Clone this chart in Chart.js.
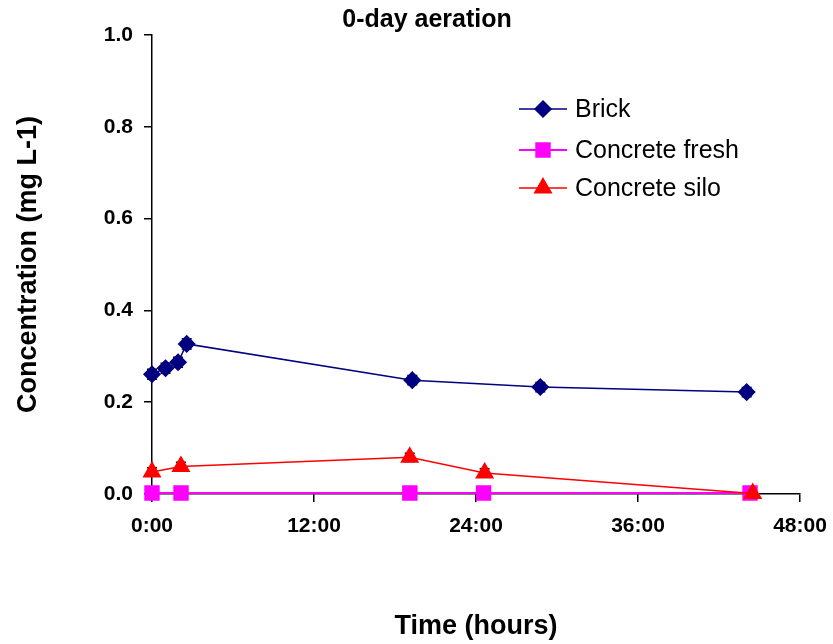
<!DOCTYPE html>
<html>
<head>
<meta charset="utf-8">
<script src="https://cdn.jsdelivr.net/npm/chart.js@4.4.0/dist/chart.umd.min.js"></script>
<style>
  html, body { margin: 0; padding: 0; background: #fff; }
  #wrap { width: 833px; height: 644px; }
</style>
</head>
<body>
<div id="wrap"><canvas id="chart"></canvas></div>
<script>
// time in hours, concentration in mg L-1
const brickTime = [0, 1.0, 1.93, 2.57, 19.28, 28.76, 44.05];
const brickConc = [0.261, 0.274, 0.287, 0.327, 0.248, 0.233, 0.222];
const brickErr  = [0.011, 0.011, 0.011, 0.011, 0.010, 0.010, 0.010];

const freshTime = [0, 2.15, 19.1, 24.56, 44.3];
const freshConc = [0.002, 0.002, 0.002, 0.002, 0.002];

const siloTime = [0, 2.14, 19.09, 24.64, 44.5];
const siloConc = [0.048, 0.060, 0.080, 0.046, 0.001];
const siloErr  = [0.009, 0.009, 0.009, 0.009, 0.004];

const xTicks = [0, 12, 24, 36, 48];
const yTicks = [0, 0.2, 0.4, 0.6, 0.8, 1.0];

const chartTitle = '0-day aeration';

const toPoints = (xs, ys) => xs.map((x, i) => ({ x: x, y: ys[i] }));
const font = '"Liberation Sans", Arial, sans-serif';

// small black error caps drawn under the markers
const errorBars = {
    id: 'errorBars',
    beforeDatasetsDraw(chart) {
        const ctx = chart.ctx;
        const xs = chart.scales.x, ys = chart.scales.y;
        ctx.save();
        ctx.strokeStyle = '#000';
        ctx.lineWidth = 1.5;
        chart.data.datasets.forEach(ds => {
            if (!ds.errors) return;
            ds.data.forEach((p, i) => {
                const px = xs.getPixelForValue(p.x);
                const top = ys.getPixelForValue(p.y + ds.errors[i]);
                const bot = ys.getPixelForValue(Math.max(0, p.y - ds.errors[i]));
                ctx.beginPath();
                ctx.moveTo(px, top); ctx.lineTo(px, bot);
                ctx.moveTo(px - 5, top); ctx.lineTo(px + 5, top);
                ctx.moveTo(px - 5, bot); ctx.lineTo(px + 5, bot);
                ctx.stroke();
            });
        });
        ctx.restore();
    }
};

// title sits a little right of the canvas centre in the original
const topTitle = {
    id: 'topTitle',
    afterDraw(chart) {
        const ctx = chart.ctx;
        ctx.save();
        ctx.fillStyle = '#000';
        ctx.font = 'bold 25px ' + font;
        ctx.textAlign = 'center';
        ctx.textBaseline = 'middle';
        ctx.fillText(chartTitle, 427, 20);
        ctx.restore();
    }
};

// legend inside the plot, like the original
const innerLegend = {
    id: 'innerLegend',
    afterDraw(chart) {
        const ctx = chart.ctx;
        const x0 = 519, rowY = [109, 150, 188];
        ctx.save();
        chart.data.datasets.forEach((ds, i) => {
            const y = rowY[i];
            ctx.strokeStyle = ds.borderColor;
            ctx.lineWidth = ds.borderWidth;
            ctx.beginPath();
            ctx.moveTo(x0, y); ctx.lineTo(x0 + 48, y);
            ctx.stroke();
            ctx.fillStyle = ds.pointBackgroundColor;
            ctx.strokeStyle = ds.pointBorderColor;
            Chart.helpers.drawPoint(ctx, {
                pointStyle: ds.pointStyle,
                radius: ds.pointRadius,
                borderWidth: 1
            }, x0 + 24, y);
            ctx.fillStyle = '#000';
            ctx.font = '25px ' + font;
            ctx.textBaseline = 'middle';
            ctx.fillText(ds.label, x0 + 56, y + 1);
        });
        ctx.restore();
    }
};

new Chart(document.getElementById('chart'), {
    type: 'line',
    data: {
        datasets: [
            {
                label: 'Brick',
                data: toPoints(brickTime, brickConc),
                errors: brickErr,
                borderColor: '#000080',
                borderWidth: 1.5,
                pointStyle: 'rectRot',
                pointRadius: 8,
                pointBackgroundColor: '#000080',
                pointBorderColor: '#000080',
                order: 2,
                clip: false
            },
            {
                label: 'Concrete fresh',
                data: toPoints(freshTime, freshConc),
                borderColor: '#ff00ff',
                borderWidth: 2,
                pointStyle: 'rect',
                pointRadius: 9.5,
                pointBackgroundColor: '#ff00ff',
                pointBorderColor: '#ff00ff',
                order: 1,
                clip: false
            },
            {
                label: 'Concrete silo',
                data: toPoints(siloTime, siloConc),
                errors: siloErr,
                borderColor: '#ff0000',
                borderWidth: 1.5,
                pointStyle: 'triangle',
                pointRadius: 9.5,
                pointBackgroundColor: '#ff0000',
                pointBorderColor: '#ff0000',
                order: 0,
                clip: false
            }
        ]
    },
    options: {
        responsive: true,
        maintainAspectRatio: false,
        animation: false,
        layout: { padding: { left: 0, right: 33, top: 35, bottom: 0 } },
        plugins: {
            legend: { display: false },
            tooltip: { enabled: false },
            title: { display: false }
        },
        elements: { line: { tension: 0 } },
        scales: {
            x: {
                type: 'linear',
                min: 0,
                max: 48,
                afterFit: s => { s.height = 150; s.paddingLeft = 0; s.paddingRight = 0; },
                afterBuildTicks: s => { s.ticks = xTicks.map(v => ({ value: v })); },
                ticks: {
                    color: '#000',
                    padding: 12,
                    maxRotation: 0,
                    font: { family: font, size: 21, weight: 'bold' },
                    callback: v => v + ':00'
                },
                grid: { display: true, drawOnChartArea: false, drawTicks: true, tickLength: 8, color: '#000', lineWidth: 1.5 },
                border: { display: true, color: '#000', width: 1.5 },
                title: {
                    display: true,
                    text: 'Time (hours)',
                    color: '#000',
                    font: { family: font, size: 27, weight: 'bold' },
                    padding: { top: 0, bottom: 1 }
                }
            },
            y: {
                min: 0,
                max: 1,
                afterFit: s => { s.width = 152; },
                afterBuildTicks: s => { s.ticks = yTicks.map(v => ({ value: v })); },
                ticks: {
                    color: '#000',
                    padding: 11,
                    font: { family: font, size: 21, weight: 'bold' },
                    callback: v => v.toFixed(1)
                },
                grid: { display: true, drawOnChartArea: false, drawTicks: true, tickLength: 8, color: '#000', lineWidth: 1.5 },
                border: { display: true, color: '#000', width: 1.5 },
                title: {
                    display: true,
                    text: 'Concentration (mg L-1)',
                    color: '#000',
                    font: { family: font, size: 27, weight: 'bold' },
                    padding: { top: 12, bottom: 0 }
                }
            }
        }
    },
    plugins: [errorBars, topTitle, innerLegend]
});
</script>
</body>
</html>
